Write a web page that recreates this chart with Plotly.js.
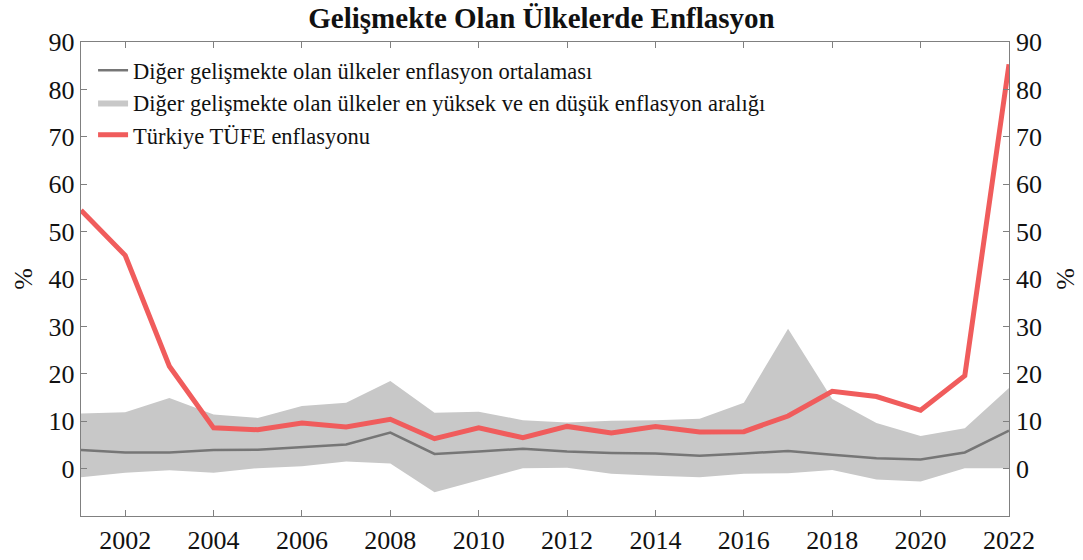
<!DOCTYPE html>
<html>
<head>
<meta charset="utf-8">
<script src="https://cdn.plot.ly/plotly-3.0.1.min.js"></script>
<style>html,body{margin:0;padding:0;background:#fff;}#chart{width:1083px;height:560px;}</style>
</head>
<body>
<div id="chart"></div>
<script>
const years = [2001,2002,2003,2004,2005,2006,2007,2008,2009,2010,2011,2012,2013,2014,2015,2016,2017,2018,2019,2020,2021,2022];
const turkeyCPI = [54.5,45.0,21.6,8.6,8.2,9.6,8.8,10.4,6.3,8.6,6.5,8.9,7.5,8.9,7.7,7.8,11.1,16.3,15.2,12.3,19.6,85.3];
const emAverage = [3.9,3.4,3.4,3.9,4.0,4.6,5.1,7.6,3.1,3.6,4.2,3.6,3.3,3.2,2.7,3.2,3.7,2.9,2.2,1.9,3.4,8.0];
const emMax = [11.6,11.9,14.9,11.4,10.7,13.2,13.9,18.5,11.8,12.0,10.2,9.7,10.1,10.2,10.5,13.9,29.5,14.7,9.6,6.9,8.5,17.0];
const emMin = [-1.8,-0.9,-0.35,-0.9,0.1,0.5,1.5,1.1,-5.0,-2.5,0.1,0.2,-1.1,-1.5,-1.8,-1.1,-1.0,-0.3,-2.3,-2.7,0.1,0.1];
const yTicks = [0,10,20,30,40,50,60,70,80,90];
const xTicks = [2002,2004,2006,2008,2010,2012,2014,2016,2018,2020,2022];
const labels = {
  title: "Gelişmekte Olan Ülkelerde Enflasyon",
  avg: "Diğer gelişmekte olan ülkeler enflasyon ortalaması",
  band: "Diğer gelişmekte olan ülkeler en yüksek ve en düşük enflasyon aralığı",
  tr: "Türkiye TÜFE enflasyonu",
  yTitle: "%"
};

const FONT = "Liberation Serif, DejaVu Serif";
const BAND = "rgb(200,200,200)";
const AXC = "rgb(128,128,128)";

const traces = [
  {x: years, y: emMin, mode: 'lines', line: {width: 0, color: BAND}, showlegend: false, hoverinfo: 'skip'},
  {x: years, y: emMax, mode: 'lines', fill: 'tonexty', fillcolor: BAND, line: {width: 0, color: BAND},
   name: labels.band, legendrank: 2},
  {x: years, y: emAverage, mode: 'lines', line: {width: 2.5, color: 'rgb(118,118,118)'}, name: labels.avg, legendrank: 1},
  {x: years, y: turkeyCPI, mode: 'lines', line: {width: 5, color: 'rgb(240,92,92)'}, name: labels.tr, legendrank: 3},
  {x: years, y: emAverage, yaxis: 'y2', mode: 'lines', line: {width: 0, color: 'rgba(0,0,0,0)'}, showlegend: false, hoverinfo: 'skip'}
];

const yCommon = {
  range: [-10, 90], tickvals: yTicks, ticktext: yTicks.map(String),
  tickfont: {family: FONT, size: 26, color: '#111'},
  showgrid: false, zeroline: false
};

const layout = {
  width: 1083, height: 560,
  margin: {l: 80.5, r: 74, t: 42, b: 43.5},
  paper_bgcolor: '#fff', plot_bgcolor: '#fff',
  font: {family: FONT, color: '#111'},
  title: {text: '<b>' + labels.title + '</b>', font: {family: FONT, size: 29, color: '#111'},
          x: 0.5, xanchor: 'center', y: 1 - 18/560, yanchor: 'middle', yref: 'container'},
  showlegend: true,
  legend: {x: 0.013, y: 0.985, xanchor: 'left', yanchor: 'top', bgcolor: 'rgba(0,0,0,0)', traceorder: 'normal',
           font: {family: FONT, size: 22.5, color: '#111'}, tracegroupgap: 0, itemwidth: 30},
  xaxis: {range: [2001, 2022], tickvals: xTicks, ticktext: xTicks.map(String),
          ticks: 'inside', ticklen: 6, tickcolor: AXC, showline: true, linecolor: AXC, linewidth: 1.3,
          mirror: 'ticks', tickfont: {family: FONT, size: 26, color: '#111'}, showgrid: false, zeroline: false},
  yaxis: Object.assign({}, yCommon, {ticks: 'inside', ticklen: 6, tickcolor: AXC, showline: true, linecolor: AXC,
          linewidth: 1.3, mirror: 'ticks',
          title: {text: labels.yTitle, font: {family: FONT, size: 26, color: '#111'}, standoff: 8}}),
  yaxis2: Object.assign({}, yCommon, {overlaying: 'y', side: 'right', ticks: '', showline: false, ticklabelstandoff: 6,
          title: {text: labels.yTitle, font: {family: FONT, size: 26, color: '#111'}, standoff: 14}})
};

Plotly.newPlot('chart', traces, layout, {displayModeBar: false, staticPlot: true});
</script>
</body>
</html>
